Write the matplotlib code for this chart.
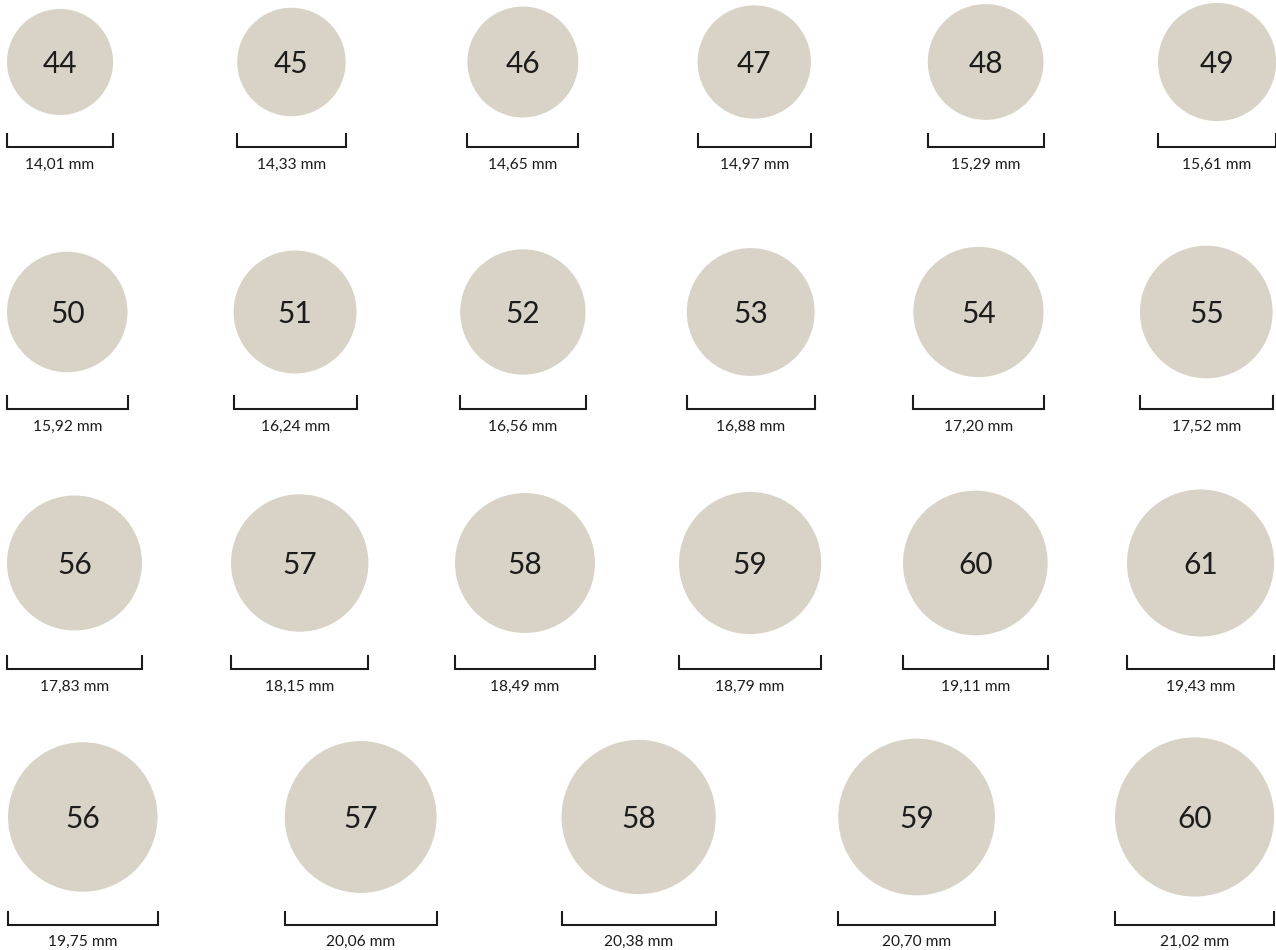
import matplotlib.pyplot as plt
from matplotlib.patches import Circle

# ring sizes and inner diameters (mm), row by row
sizes = [[44, 45, 46, 47, 48, 49],
         [50, 51, 52, 53, 54, 55],
         [56, 57, 58, 59, 60, 61],
         [56, 57, 58, 59, 60]]
diameters_mm = [[14.01, 14.33, 14.65, 14.97, 15.29, 15.61],
                [15.92, 16.24, 16.56, 16.88, 17.20, 17.52],
                [17.83, 18.15, 18.49, 18.79, 19.11, 19.43],
                [19.75, 20.06, 20.38, 20.70, 21.02]]

# layout in pixels
PX_PER_MM = 7.57
row_left = [7, 7, 7, 8]
row_pitch = [230.2, 226.6, 224.0, 276.75]
row_cy = [62, 312, 563, 817]
row_bracket = [147, 409, 669, 925]
row_label = [169, 431, 691, 946]

CIRCLE_COLOR = '#d9d3c7'
INK = '#1c1c1c'

fig = plt.figure(figsize=(12.76, 9.5), dpi=100)
ax = fig.add_axes([0, 0, 1, 1])
ax.set_xlim(0, 1276)
ax.set_ylim(950, 0)
ax.set_aspect('equal')
ax.axis('off')

for r, (row_sizes, row_d) in enumerate(zip(sizes, diameters_mm)):
    for c, (size, d_mm) in enumerate(zip(row_sizes, row_d)):
        d = d_mm * PX_PER_MM
        left = row_left[r] + c * row_pitch[r]
        cx = left + d / 2
        ax.add_patch(Circle((cx, row_cy[r]), d / 2, color=CIRCLE_COLOR, lw=0))
        ax.text(cx, row_cy[r] + 11, str(size), ha='center', va='baseline',
                fontsize=21.5, family='Lato', color=INK)

        # bracket under the circle, same width as the diameter
        yb = row_bracket[r]
        ax.plot([left, left, left + d, left + d], [yb - 13, yb, yb, yb - 13],
                color=INK, lw=1.5, solid_joinstyle='miter')
        label = f"{d_mm:.2f}".replace('.', ',') + ' mm'
        ax.text(cx, row_label[r], label, ha='center', va='baseline',
                fontsize=11.2, family='Lato', color=INK)

fig.savefig('out.png', dpi=100)
